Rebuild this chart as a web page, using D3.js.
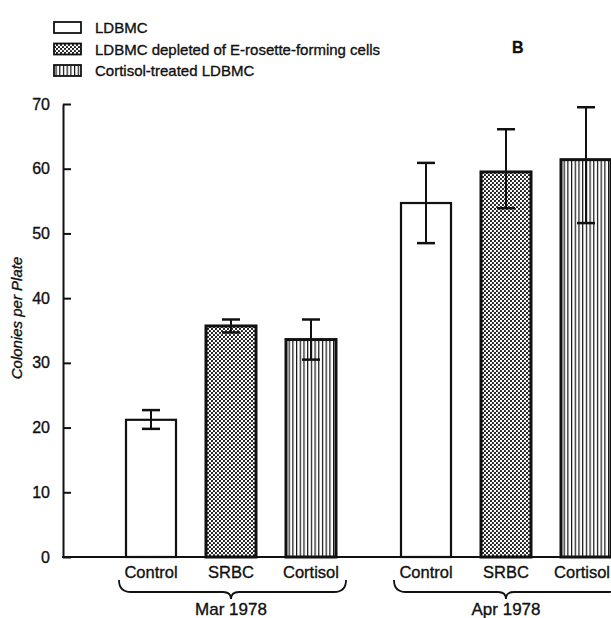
<!DOCTYPE html>
<html>
<head>
<meta charset="utf-8">
<script src="https://cdn.jsdelivr.net/npm/d3@7"></script>
<style>
  body { margin: 0; background: #fff; }
  svg { display: block; font-family: "Liberation Sans", Arial, sans-serif; }
  svg text { stroke: #111; stroke-width: 0.35px; }
</style>
</head>
<body>
<script>
// chart values
var groups = ["Mar 1978", "Apr 1978"];
var treatments = ["Control", "SRBC", "Cortisol"];
var legendLabels = ["LDBMC", "LDBMC depleted of E-rosette-forming cells", "Cortisol-treated LDBMC"];
var means = [[21.2, 35.7, 33.6], [54.7, 59.5, 61.4]];
var errHigh = [[22.7, 36.7, 36.7], [60.9, 66.1, 69.5]];
var errLow = [[19.8, 34.7, 30.5], [48.5, 53.9, 51.6]];
var yTicks = [0, 10, 20, 30, 40, 50, 60, 70];

var width = 611, height = 618;

var svg = d3.select("body").append("svg")
    .attr("width", width)
    .attr("height", height);

// patterns
var defs = svg.append("defs");
var dots = defs.append("pattern")
    .attr("id", "dots")
    .attr("patternUnits", "userSpaceOnUse")
    .attr("width", 4).attr("height", 4);
dots.append("rect").attr("width", 4).attr("height", 4).attr("fill", "#fff");
dots.append("circle").attr("cx", 1).attr("cy", 1).attr("r", 1.1).attr("fill", "#111");
dots.append("circle").attr("cx", 3).attr("cy", 3).attr("r", 1.1).attr("fill", "#111");

var stripes = defs.append("pattern")
    .attr("id", "stripes")
    .attr("patternUnits", "userSpaceOnUse")
    .attr("width", 3.7).attr("height", 10);
stripes.append("rect").attr("width", 3.7).attr("height", 10).attr("fill", "#fff");
stripes.append("rect").attr("x", 0).attr("width", 1.2).attr("height", 10).attr("fill", "#111");

var fills = ["#fff", "url(#dots)", "url(#stripes)"];
var borders = [2.2, 3, 3];

// scales
var y = d3.scaleLinear().domain([0, 70]).range([557, 104]);
var xGroup = d3.scaleBand().domain(groups).range([111, 626]).paddingInner(35 / 275).paddingOuter(0);
var xBar = d3.scaleBand().domain(treatments).range([0, xGroup.bandwidth()])
    .paddingInner(0.375).paddingOuter(0.1875);

// y axis
var yAxis = d3.axisLeft(y).tickValues(yTicks).tickSize(-8).tickPadding(13).tickSizeOuter(0);
var ya = svg.append("g").attr("transform", "translate(63,0)").call(yAxis);
ya.select(".domain").attr("stroke", "#111").attr("stroke-width", 2);
ya.selectAll(".tick line").attr("stroke", "#111").attr("stroke-width", 2);
ya.selectAll(".tick text").attr("font-size", 16).attr("fill", "#111");

svg.append("text")
    .attr("transform", "translate(22,318) rotate(-90)")
    .attr("text-anchor", "middle")
    .attr("font-size", 15)
    .attr("font-style", "italic")
    .attr("fill", "#111")
    .text("Colonies per Plate");

// bars
var gs = svg.selectAll(".grp").data(groups).enter().append("g")
    .attr("class", "grp")
    .attr("transform", function(d) { return "translate(" + xGroup(d) + ",0)"; });

gs.each(function(g, gi) {
  var sel = d3.select(this);
  var gx = xGroup(g);
  treatments.forEach(function(t, ti) {
    var x0 = xBar(t), bw = xBar.bandwidth(), cx = x0 + bw / 2;
    sel.append("rect")
        .attr("x", x0).attr("y", y(means[gi][ti]))
        .attr("width", bw).attr("height", y(0) - y(means[gi][ti]))
        .attr("fill", fills[ti])
        .attr("stroke", "#111").attr("stroke-width", borders[ti]);
    sel.append("line")
        .attr("x1", cx).attr("x2", cx)
        .attr("y1", y(errHigh[gi][ti])).attr("y2", y(errLow[gi][ti]))
        .attr("stroke", "#111").attr("stroke-width", 2);
    [errHigh[gi][ti], errLow[gi][ti]].forEach(function(v) {
      sel.append("line")
          .attr("x1", cx - 9).attr("x2", cx + 9)
          .attr("y1", y(v)).attr("y2", y(v))
          .attr("stroke", "#111").attr("stroke-width", 2.5);
    });
    var lbl = sel.append("text")
        .attr("x", cx).attr("y", 578)
        .attr("text-anchor", "middle")
        .attr("font-size", 16.5)
        .attr("fill", "#111")
        .text(t);
    // keep the last label inside the page edge, as in the original scan
    var w = lbl.node().getComputedTextLength();
    if (gx + cx + w / 2 > width - 1) {
      lbl.attr("text-anchor", "end").attr("x", width - 1 - gx);
    }
  });

  // brace under the group
  var cx = xGroup.bandwidth() / 2;
  var l = xBar(treatments[0]) - 7, r = xBar(treatments[2]) + xBar.bandwidth() + 10;
  var b = 592;
  sel.append("path")
      .attr("d", "M" + l + ",580 Q" + l + "," + b + " " + (l + 12) + "," + b +
                 " L" + (cx - 8) + "," + b + " Q" + cx + "," + b + " " + cx + "," + (b + 7) +
                 " Q" + cx + "," + b + " " + (cx + 8) + "," + b +
                 " L" + (r - 12) + "," + b + " Q" + r + "," + b + " " + r + ",580")
      .attr("fill", "none").attr("stroke", "#111").attr("stroke-width", 1.8);
  sel.append("text")
      .attr("x", cx).attr("y", 615)
      .attr("text-anchor", "middle")
      .attr("font-size", 17)
      .attr("fill", "#111")
      .text(g);
});

// x baseline
svg.append("line")
    .attr("x1", 62).attr("x2", width)
    .attr("y1", y(0)).attr("y2", y(0))
    .attr("stroke", "#111").attr("stroke-width", 2);

// legend
var lg = svg.append("g");
legendLabels.forEach(function(d, i) {
  var top = 22 + i * 21.5;
  lg.append("rect")
      .attr("x", 54).attr("y", top).attr("width", 27).attr("height", 11)
      .attr("fill", fills[i]).attr("stroke", "#111").attr("stroke-width", 1.8);
  lg.append("text")
      .attr("x", 95).attr("y", top + 11)
      .attr("font-size", 15)
      .attr("fill", "#111")
      .text(d);
});

svg.append("text")
    .attr("x", 512).attr("y", 53)
    .attr("font-size", 16)
    .attr("font-weight", "bold")
    .attr("fill", "#111")
    .text("B");
</script>
</body>
</html>
